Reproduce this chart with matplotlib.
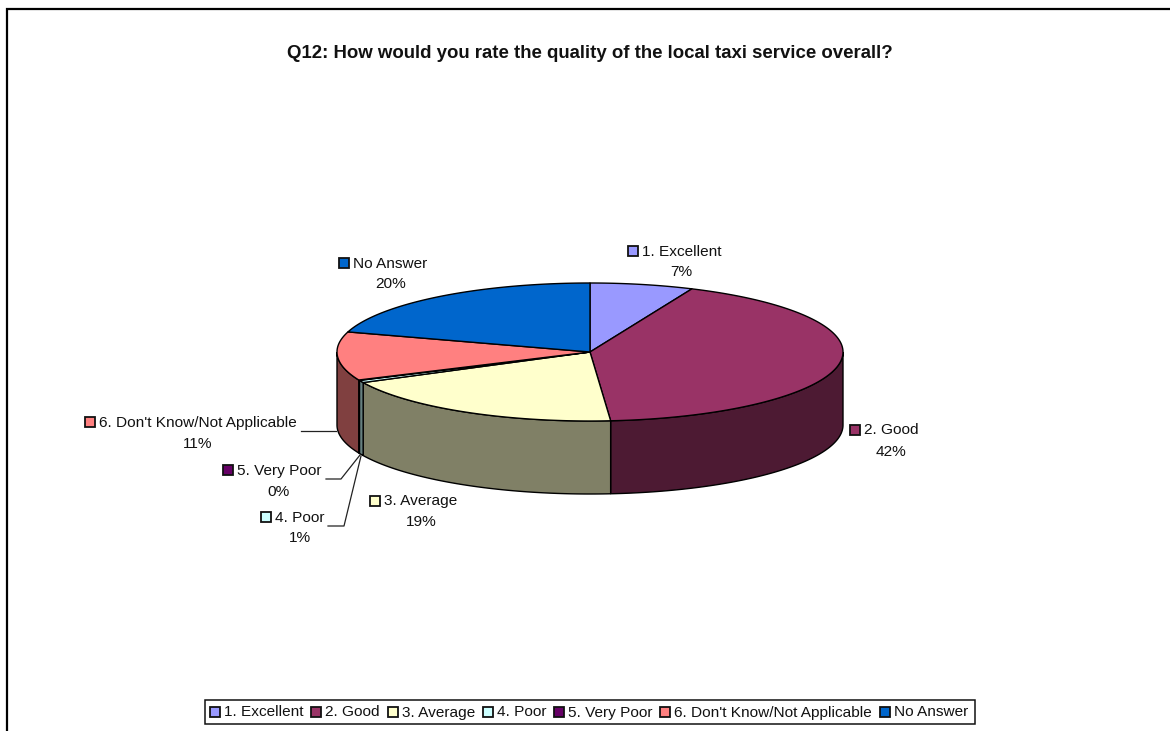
import numpy as np
import matplotlib
matplotlib.use("Agg")
import matplotlib.pyplot as plt
from matplotlib.patches import Polygon, Rectangle

plt.rcParams['font.family'] = ['Liberation Sans', 'DejaVu Sans']

title = "Q12: How would you rate the quality of the local taxi service overall?"
categories = ["1. Excellent", "2. Good", "3. Average", "4. Poor", "5. Very Poor",
              "6. Don't Know/Not Applicable", "No Answer"]
values = [6.6, 42.1, 19.0, 0.55, 0.1, 11.35, 20.3]
pct_labels = ["7%", "42%", "19%", "1%", "0%", "11%", "20%"]
top_colors = ["#9999FF", "#993366", "#FFFFCC", "#CCFFFF", "#660066", "#FF8080", "#0066CC"]
side_colors = ["#6B6BB3", "#4D1A33", "#808066", "#668080", "#330033", "#804040", "#003366"]

W, H = 1170, 731
fig = plt.figure(figsize=(W / 100, H / 100), dpi=100)
ax = fig.add_axes([0, 0, 1, 1])
ax.set_xlim(0, W)
ax.set_ylim(H, 0)
ax.axis('off')

# chart frame: left and top edges only, the rest runs off the picture
ax.plot([6.5, 6.5, W + 5], [H + 5, 9, 9], color='black', lw=1.6, solid_joinstyle='miter')

ax.text(590, 53.5, title, ha='center', va='center', fontsize=13.4, fontweight='bold', color='#111111')

cx, cy, rx, ry, depth = 590, 352, 253, 69, 73


def pt(frac):
    a = 2 * np.pi * frac
    return cx + rx * np.sin(a), cy - ry * np.cos(a)


edges = np.cumsum([0] + values) / sum(values)
spans = list(zip(edges[:-1], edges[1:]))

# side walls: only the front half of the rim (fractions 0.25 to 0.75) is visible
for i, (a, b) in enumerate(spans):
    lo, hi = max(a, 0.25), min(b, 0.75)
    if hi > lo:
        f = np.linspace(lo, hi, 80)
        x, y = pt(f)
        xy = np.r_[np.c_[x, y], np.c_[x[::-1], y[::-1] + depth]]
        ax.add_patch(Polygon(xy, closed=True, fc=side_colors[i], ec='black', lw=1.0, zorder=2))

for i, (a, b) in enumerate(spans):
    f = np.linspace(a, b, 200)
    x, y = pt(f)
    xy = np.r_[[[cx, cy]], np.c_[x, y]]
    ax.add_patch(Polygon(xy, closed=True, fc=top_colors[i], ec='black', lw=1.0, zorder=3,
                         joinstyle='round'))

# data labels: key box + name on first line, percentage centred beneath the name
label_pos = {0: (681.5, 251, 272), 1: (891, 430, 451), 2: (421, 501, 522), 3: (299.5, 517, 538),
             4: (279, 470, 491), 5: (197.5, 422, 443), 6: (390.5, 263, 284)}
base = 4.5  # baseline offset below the visual centre of a text line


def key_box(x, y, color, z=6):
    ax.add_patch(Rectangle((x, y - 5), 10, 10, fc=color, ec='#111111', lw=1.3, zorder=z))


fs = 11.1
for i, cat in enumerate(categories):
    xc, y1, y2 = label_pos[i]
    t = ax.text(xc, y1 + base, cat, ha='center', va='baseline', fontsize=fs, color='#111111', zorder=6)
    fig.canvas.draw()
    bb = t.get_window_extent().transformed(ax.transData.inverted())
    key_box(bb.x0 - 14, y1, top_colors[i])
    ax.text(xc, y2 + base, pct_labels[i], ha='center', va='baseline', fontsize=fs, color='#111111', zorder=6)

# leader lines
leaders = [[(301, 431), (336, 431)],
           [(326, 479), (341, 479), (360, 455)],
           [(328, 526), (344, 526), (361, 456)]]
for xy in leaders:
    xs, ys = zip(*xy)
    ax.plot(xs, ys, color='#222222', lw=0.9, zorder=5)

# legend strip
lx0, lx1, ly0, ly1 = 204.5, 975, 700, 724
ax.add_patch(Rectangle((lx0, ly0), lx1 - lx0, ly1 - ly0, fc='white', ec='#111111', lw=1.1, zorder=4))
x = lx0 + 5.5
for i, cat in enumerate(categories):
    key_box(x, (ly0 + ly1) / 2, top_colors[i])
    t = ax.text(x + 14, (ly0 + ly1) / 2 + base, cat, ha='left', va='baseline', fontsize=fs, color='#111111', zorder=6)
    fig.canvas.draw()
    bb = t.get_window_extent().transformed(ax.transData.inverted())
    x = bb.x1 + 7.8

fig.savefig("out.png", dpi=100)
